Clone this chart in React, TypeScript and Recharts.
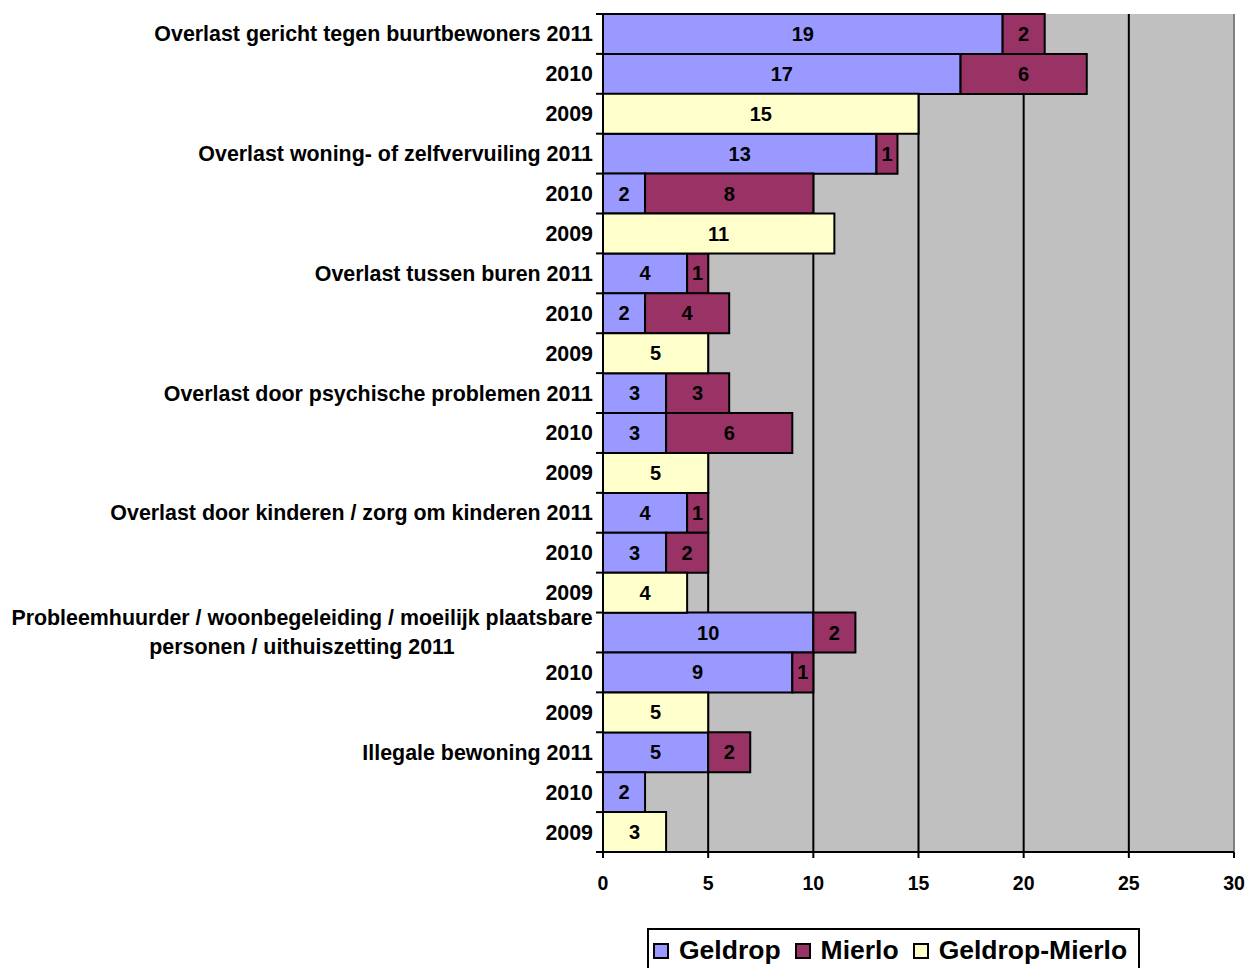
import React from 'react';
import { BarChart, Bar, XAxis, YAxis, CartesianGrid, LabelList, Legend, ReferenceLine } from 'recharts';

const categories = [
  'Overlast gericht tegen buurtbewoners 2011', '2010', '2009',
  'Overlast woning- of zelfvervuiling 2011', '2010', '2009',
  'Overlast tussen buren 2011', '2010', '2009',
  'Overlast door psychische problemen 2011', '2010', '2009',
  'Overlast door kinderen / zorg om kinderen 2011', '2010', '2009',
  'Probleemhuurder / woonbegeleiding / moeilijk plaatsbare\npersonen / uithuiszetting 2011', '2010', '2009',
  'Illegale bewoning 2011', '2010', '2009',
];
const geldrop = [19, 17, null, 13, 2, null, 4, 2, null, 3, 3, null, 4, 3, null, 10, 9, null, 5, 2, null];
const mierlo = [2, 6, null, 1, 8, null, 1, 4, null, 3, 6, null, 1, 2, null, 2, 1, null, 2, null, null];
const geldropMierlo = [null, null, 15, null, null, 11, null, null, 5, null, null, 5, null, null, 4, null, null, 5, null, null, 3];
const xTicks = [0, 5, 10, 15, 20, 25, 30];
const seriesNames = ['Geldrop', 'Mierlo', 'Geldrop-Mierlo'];
const seriesColors = ['#9999FF', '#993366', '#FFFFCC'];

const data = categories.map((c, i) => ({
  key: String(i),
  geldrop: geldrop[i],
  mierlo: mierlo[i],
  gm: geldropMierlo[i],
}));

const FONT = '"Liberation Sans", Arial, sans-serif';
const BAND = (853 - 14) / categories.length;
const YFS = 21.4;

const YTick = (props: any) => {
  const { x, y, payload } = props;
  const idx = Number(payload.value);
  const label = categories[idx] || '';
  const lines = label.split('\n');
  const axisX = 603;
  return (
    <g>
      <line x1={axisX - 7} x2={axisX} y1={y - BAND / 2} y2={y - BAND / 2} stroke="#000" strokeWidth={2} />
      {idx === categories.length - 1 && (
        <line x1={axisX - 7} x2={axisX} y1={y + BAND / 2} y2={y + BAND / 2} stroke="#000" strokeWidth={2} />
      )}
      {lines.length === 1 ? (
        <text x={x} y={y} dy="0.35em" textAnchor="end" fontFamily={FONT} fontWeight="bold" fontSize={YFS} fill="#000">
          {label}
        </text>
      ) : (
        <text fontFamily={FONT} fontWeight="bold" fontSize={YFS} fill="#000" textAnchor="middle">
          <tspan x={302} y={y - 15} dy="0.35em">{lines[0]}</tspan>
          <tspan x={302} y={y + 14} dy="0.35em">{lines[1]}</tspan>
        </text>
      )}
    </g>
  );
};

const renderLabel = (props: any) => {
  const { x, y, width, height, value } = props;
  if (value === null || value === undefined) return null;
  return (
    <text x={x + width / 2} y={y + height / 2} dy="0.35em" textAnchor="middle" fontFamily={FONT} fontWeight="bold" fontSize={20} fill="#000">
      {value}
    </text>
  );
};

const LegendContent = () => (
  <div
    style={{
      boxSizing: 'border-box',
      width: 493,
      height: 44,
      border: '2px solid #000',
      background: '#fff',
      display: 'flex',
      alignItems: 'center',
      paddingLeft: 4,
      fontFamily: FONT,
      fontWeight: 'bold',
      fontSize: 26.5,
      whiteSpace: 'nowrap',
    }}
  >
    {seriesNames.map((n, i) => (
      <div key={n} style={{ display: 'flex', alignItems: 'center', marginRight: 14, whiteSpace: 'nowrap' }}>
        <span
          style={{
            display: 'inline-block',
            boxSizing: 'border-box',
            width: 16,
            height: 16,
            border: '2px solid #000',
            background: seriesColors[i],
            marginRight: 10,
            marginTop: 1,
          }}
        />
        <span>{n}</span>
      </div>
    ))}
  </div>
);

export default function App() {
  return (
    <div style={{ position: 'absolute', left: 0, top: 0, width: 1249, height: 968, overflow: 'hidden', background: '#fff' }}>
      <BarChart
        width={1249}
        height={968}
        data={data}
        layout="vertical"
        barCategoryGap={0}
        margin={{ top: 14, right: 15, bottom: 22, left: 0 }}
      >
        <CartesianGrid horizontal={false} stroke="#000" strokeWidth={2} fill="#C0C0C0" fillOpacity={1} />
        <XAxis
          type="number"
          domain={[0, 30]}
          ticks={xTicks}
          interval={0}
          height={50}
          axisLine={{ stroke: '#000', strokeWidth: 2 }}
          tickLine={{ stroke: '#000', strokeWidth: 2 }}
          tickSize={6}
          tickMargin={18}
          tick={{ fill: '#000', fontFamily: FONT, fontWeight: 'bold', fontSize: 19.5 }}
        />
        <YAxis
          type="category"
          dataKey="key"
          width={603}
          interval={0}
          axisLine={{ stroke: '#000', strokeWidth: 2 }}
          tickLine={false}
          tickSize={6}
          tickMargin={4}
          tick={<YTick />}
        />
        <ReferenceLine x={30} stroke="#808080" strokeWidth={2} />
        <Bar dataKey="geldrop" name="Geldrop" stackId="a" fill={seriesColors[0]} stroke="#000" strokeWidth={2} isAnimationActive={false}>
          <LabelList dataKey="geldrop" content={renderLabel} />
        </Bar>
        <Bar dataKey="mierlo" name="Mierlo" stackId="a" fill={seriesColors[1]} stroke="#000" strokeWidth={2} isAnimationActive={false}>
          <LabelList dataKey="mierlo" content={renderLabel} />
        </Bar>
        <Bar dataKey="gm" name="Geldrop-Mierlo" stackId="a" fill={seriesColors[2]} stroke="#000" strokeWidth={2} isAnimationActive={false}>
          <LabelList dataKey="gm" content={renderLabel} />
        </Bar>
        <Legend
          verticalAlign="bottom"
          height={50}
          content={<LegendContent />}
          wrapperStyle={{ position: 'absolute', left: 647, top: 928, width: 493, height: 44, bottom: 'auto' }}
        />
      </BarChart>
    </div>
  );
}
